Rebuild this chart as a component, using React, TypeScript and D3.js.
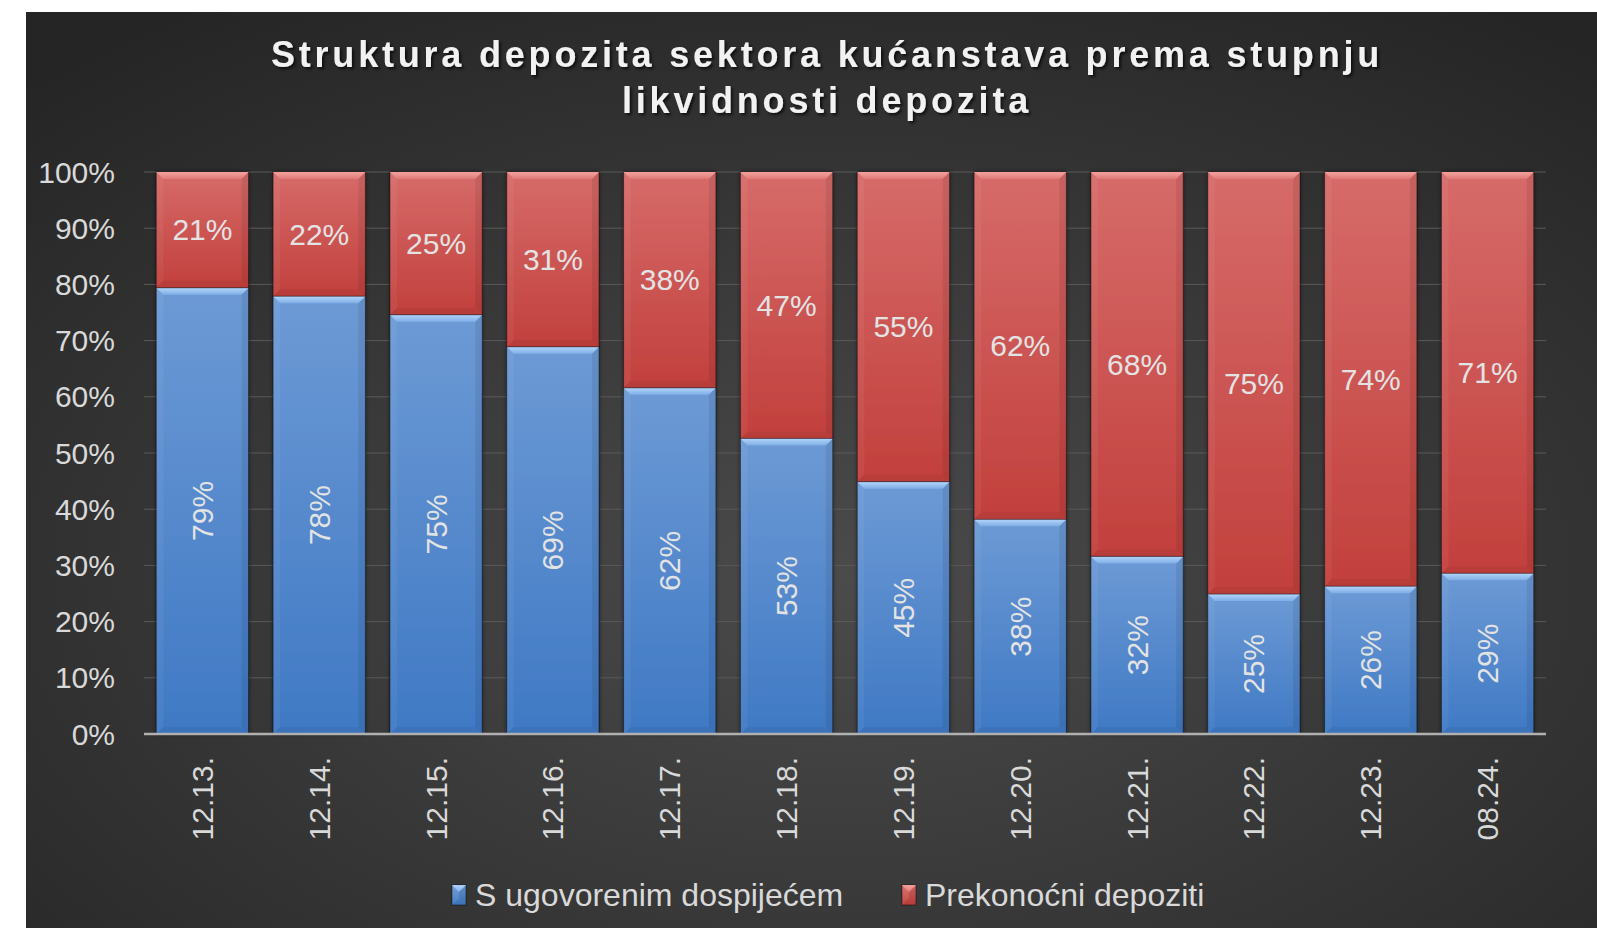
import * as d3 from "d3";
import React from "react";

// podaci (očitano sa slike)
const categories = ["12.13.", "12.14.", "12.15.", "12.16.", "12.17.", "12.18.", "12.19.", "12.20.", "12.21.", "12.22.", "12.23.", "08.24."];
const maturityShare = [79.4, 77.9, 74.6, 68.9, 61.6, 52.6, 44.9, 38.2, 31.6, 24.9, 26.3, 28.6];
const overnightShare = [20.6, 22.1, 25.4, 31.1, 38.4, 47.4, 55.1, 61.8, 68.4, 75.1, 73.7, 71.4];
const yTicks = [0, 10, 20, 30, 40, 50, 60, 70, 80, 90, 100];
const seriesNames = ["S ugovorenim dospijećem", "Prekonoćni depoziti"];
const titleLines = ["Struktura depozita sektora kućanstava prema stupnju", "likvidnosti depozita"];

const W = 1597;
const H = 928;
const plot = { left: 144, right: 1546, top: 172, bottom: 734 };
const FONT = "'Liberation Sans', Arial, sans-serif";
const TEXT = "#d9d9d9";

// bevel segment
const Segment = ({ x, y, w, h, kind }: { x: number; y: number; w: number; h: number; kind: string }) => {
  const b = Math.min(7, h / 2);
  const hi = kind === "blue" ? "#a6cdf6" : "#f39a97";
  return (
    <g>
      <rect x={x} y={y} width={w} height={h} fill={`url(#grad-${kind})`} stroke="rgba(0,0,0,0.45)" strokeWidth={1} />
      <polygon points={`${x},${y} ${x + w},${y} ${x + w - b},${y + b} ${x + b},${y + b}`} fill={`url(#top-${kind})`} />
      <polygon points={`${x},${y} ${x + b},${y + b} ${x + b},${y + h - b} ${x},${y + h}`} fill="rgba(255,255,255,0.05)" />
      <polygon points={`${x + w},${y} ${x + w - b},${y + b} ${x + w - b},${y + h - b} ${x + w},${y + h}`} fill="rgba(0,0,0,0.08)" />
      <polygon points={`${x},${y + h} ${x + b},${y + h - b} ${x + w - b},${y + h - b} ${x + w},${y + h}`} fill="rgba(0,0,0,0.05)" />
      <line x1={x + 1} x2={x + w - 1} y1={y + 0.5} y2={y + 0.5} stroke={hi} strokeWidth={1} />
    </g>
  );
};

const App = () => {
  const x = d3.scaleBand().domain(categories).range([plot.left, plot.right]).paddingInner(0.21).paddingOuter(0.105);
  const y = d3.scaleLinear().domain([0, 100]).range([plot.bottom, plot.top]);
  const bw = x.bandwidth();
  const fmt = (v: number) => `${Math.round(v)}%`;

  return (
    <svg width={W} height={H} style={{ position: "absolute", left: 0, top: 0 }}>
      <defs>
        <radialGradient id="bg" cx="52%" cy="62%" r="75%">
          <stop offset="0%" stopColor="#4b4b4b" />
          <stop offset="100%" stopColor="#252525" />
        </radialGradient>
        <linearGradient id="grad-blue" x1="0" x2="0" y1="0" y2="1">
          <stop offset="0%" stopColor="#6d9ad5" />
          <stop offset="100%" stopColor="#3f79c4" />
        </linearGradient>
        <linearGradient id="grad-red" x1="0" x2="0" y1="0" y2="1">
          <stop offset="0%" stopColor="#d66b69" />
          <stop offset="100%" stopColor="#c2403d" />
        </linearGradient>
        <linearGradient id="top-blue" x1="0" x2="0" y1="0" y2="1">
          <stop offset="0%" stopColor="#b4d6fa" />
          <stop offset="100%" stopColor="#7eaee6" />
        </linearGradient>
        <linearGradient id="top-red" x1="0" x2="0" y1="0" y2="1">
          <stop offset="0%" stopColor="#f5a4a1" />
          <stop offset="100%" stopColor="#de7a77" />
        </linearGradient>
        <filter id="tshadow" x="-5%" y="-30%" width="110%" height="160%">
          <feDropShadow dx="2" dy="2" stdDeviation="1.5" floodColor="#000" floodOpacity="0.7" />
        </filter>
        <filter id="bshadow" x="-10%" y="-5%" width="120%" height="110%">
          <feDropShadow dx="0" dy="0" stdDeviation="2" floodColor="#000" floodOpacity="0.5" />
        </filter>
      </defs>

      <rect x={0} y={0} width={W} height={H} fill="#ffffff" />
      <rect x={26} y={12} width={W - 26} height={H - 12} fill="url(#bg)" />

      {/* naslov */}
      <g filter="url(#tshadow)">
        {titleLines.map((t, i) => (
          <text key={t} x={827} y={67 + i * 46} textAnchor="middle" fontFamily={FONT} fontWeight="bold" fontSize={36} letterSpacing={3.8} fill="#f2f2f2">
            {t}
          </text>
        ))}
      </g>

      {/* mreža i os Y */}
      {yTicks.map((t) => (
        <g key={t}>
          {t > 0 && <line x1={plot.left} x2={plot.right} y1={y(t)} y2={y(t)} stroke="#5a5a5a" strokeWidth={1} />}
          <text x={115} y={y(t)} dy="0.35em" textAnchor="end" fontFamily={FONT} fontSize={30} fill={TEXT}>
            {t}%
          </text>
        </g>
      ))}

      {/* stupci */}
      <g filter="url(#bshadow)">
        {categories.map((c, i) => {
          const x0 = x(c) as number;
          const yb = y(maturityShare[i]);
          const yr = y(maturityShare[i] + overnightShare[i]);
          return (
            <g key={c}>
              <Segment x={x0} y={yb} w={bw} h={plot.bottom - yb} kind="blue" />
              <Segment x={x0} y={yr} w={bw} h={yb - yr} kind="red" />
            </g>
          );
        })}
      </g>

      {/* oznake vrijednosti */}
      {categories.map((c, i) => {
        const cx = (x(c) as number) + bw / 2;
        const yb = y(maturityShare[i]);
        const yr = y(maturityShare[i] + overnightShare[i]);
        const cb = (yb + plot.bottom) / 2;
        const cr = (yr + yb) / 2;
        return (
          <g key={c} fontFamily={FONT} fontSize={30} fill="#e3e3e3">
            <text x={cx} y={cr} dy="0.35em" textAnchor="middle">
              {fmt(overnightShare[i])}
            </text>
            <text transform={`translate(${cx},${cb}) rotate(-90)`} dy="0.35em" textAnchor="middle">
              {fmt(maturityShare[i])}
            </text>
          </g>
        );
      })}

      {/* os X */}
      <line x1={plot.left} x2={plot.right} y1={plot.bottom} y2={plot.bottom} stroke="#b0b0b0" strokeWidth={2.5} />
      {categories.map((c) => (
        <text
          key={c}
          transform={`translate(${(x(c) as number) + bw / 2},${plot.bottom + 23}) rotate(-90)`}
          dy="0.35em"
          textAnchor="end"
          fontFamily={FONT}
          fontSize={30}
          fill={TEXT}
        >
          {c}
        </text>
      ))}

      {/* legenda */}
      {seriesNames.map((s, i) => {
        const lx = i === 0 ? 452 : 902;
        const kind = i === 0 ? "blue" : "red";
        return (
          <g key={s}>
            <Segment x={lx} y={885} w={14} h={20} kind={kind} />
            <text x={lx + 23} y={895} dy="0.35em" fontFamily={FONT} fontSize={32} fill={TEXT}>
              {s}
            </text>
          </g>
        );
      })}
    </svg>
  );
};

export default App;
